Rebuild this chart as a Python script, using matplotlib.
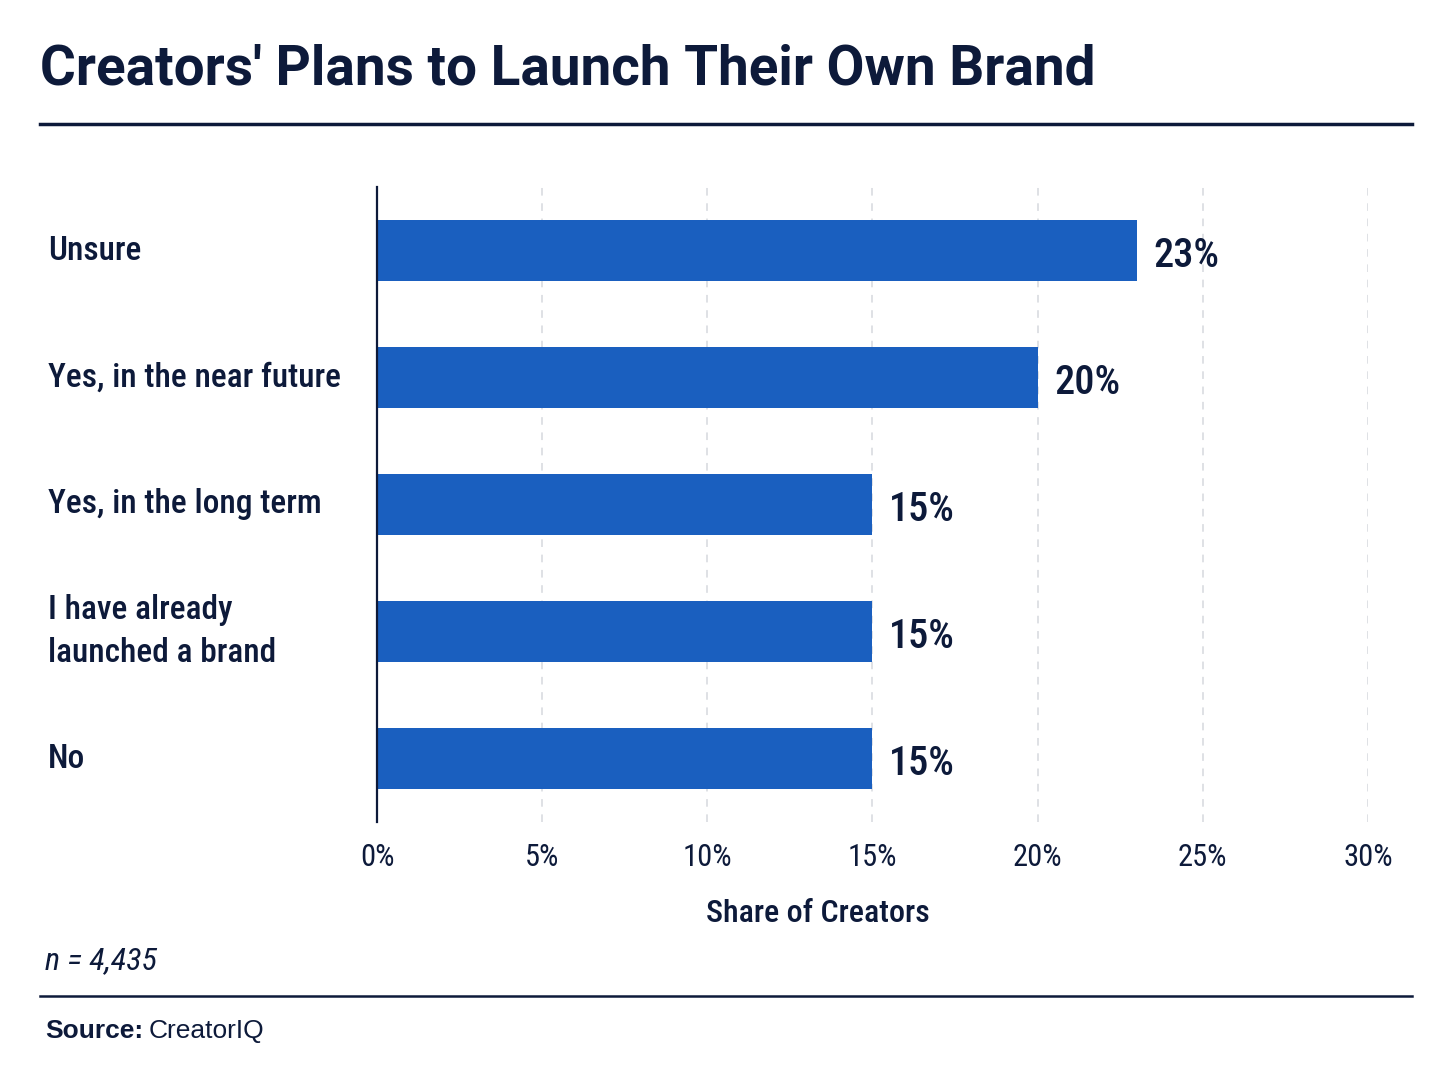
import matplotlib
matplotlib.use("Agg")
import matplotlib.pyplot as plt
from matplotlib import font_manager as fm
from matplotlib.transforms import blended_transform_factory

names = {f.name for f in fm.fontManager.ttflist}
cond = None
for cand in ["Roboto Condensed", "Liberation Sans Narrow", "Open Sans Condensed", "Noto Sans Condensed"]:
    if cand in names:
        cond = cand
        break
if cond is None:
    cond = "Roboto"

categories = ["Unsure", "Yes, in the near future", "Yes, in the long term",
              "I have already\nlaunched a brand", "No"]
values = [23, 20, 15, 15, 15]
xticks = [0, 5, 10, 15, 20, 25, 30]
xtick_labels = ["0%", "5%", "10%", "15%", "20%", "25%", "30%"]

NAVY = "#0d1a3a"
BLUE = "#1a5fbf"

W, H = 1448, 1086
fig = plt.figure(figsize=(W / 100, H / 100), dpi=100)
fig.patch.set_facecolor("white")

ax = fig.add_axes([377 / W, 1 - 822 / H, (1368 - 377) / W, (822 - 187) / H])
y = list(range(len(categories)))
ax.barh(y, values, height=0.48, color=BLUE, zorder=3)
ax.set_xlim(0, 30)
ax.set_ylim(len(categories) - 0.5, -0.5)

for s in ["top", "right", "bottom"]:
    ax.spines[s].set_visible(False)
ax.spines["left"].set_color(NAVY)
ax.spines["left"].set_linewidth(1.6)
ax.spines["left"].set_zorder(4)

ax.set_xticks(xticks)
ax.set_xticklabels(xtick_labels, fontsize=22, color=NAVY, family=cond)
ax.tick_params(axis="x", length=0, pad=15)
ax.set_yticks([])
for xt in xticks[1:]:
    ax.axvline(xt, color="#d6d9de", lw=1.1, ls=(0, (5, 5)), zorder=1)

for yi, v in enumerate(values):
    ax.text(v + 0.5, yi + 0.04, f"{v}%", va="center", ha="left",
            fontsize=29, fontweight="medium", color=NAVY, family=cond)

tr = blended_transform_factory(fig.transFigure, ax.transData)
for yi, cat in enumerate(categories):
    ax.text(48 / W, yi + 0.0, cat, transform=tr, va="center", ha="left",
            fontsize=24, fontweight="medium", color=NAVY, family=cond,
            linespacing=1.4)

fig.text(818 / W, 1 - 914 / H, "Share of Creators", fontsize=23,
         fontweight="medium", color=NAVY, family=cond, va="center", ha="center")

fig.text(40 / W, 1 - 70 / H, "Creators' Plans to Launch Their Own Brand",
         fontsize=39.5, fontweight="bold", color=NAVY, family="Roboto",
         va="center", ha="left")
fig.add_artist(plt.Line2D([40 / W, 1412 / W], [1 - 124 / H] * 2, color=NAVY, lw=2.5))
fig.text(45 / W, 1 - 961 / H, "n = 4,435", fontsize=23, style="italic",
         color=NAVY, family=cond, va="center", ha="left")
fig.add_artist(plt.Line2D([40 / W, 1412 / W], [1 - 996 / H] * 2, color=NAVY, lw=1.8))
t1 = fig.text(45 / W, 1 - 1031 / H, "Source:", fontsize=19, fontweight="bold",
              color=NAVY, family="Liberation Sans", va="center", ha="left")
fig.canvas.draw()
bb = t1.get_window_extent()
fig.text((bb.x1 + 6) / W, 1 - 1031 / H, "CreatorIQ", fontsize=19,
         color=NAVY, family="Liberation Sans", va="center", ha="left")

fig.savefig("out.png", dpi=100, facecolor="white")
